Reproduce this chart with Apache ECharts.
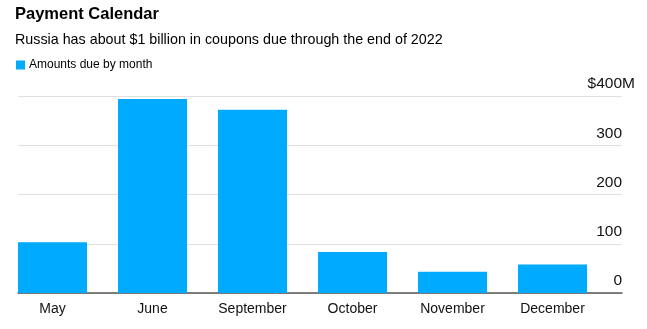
<!DOCTYPE html>
<html>
<head>
<meta charset="utf-8">
<script src="https://cdn.jsdelivr.net/npm/echarts@6/dist/echarts.min.js"></script>
<style>
  html, body { margin: 0; padding: 0; background: #fff; }
  #chart { width: 647px; height: 329px; }
</style>
</head>
<body>
<div id="chart"></div>
<script>
// Coupon payments due, $ millions
const months = ['May', 'June', 'September', 'October', 'November', 'December'];
const amountsDue = [103, 394, 372, 83, 43, 58];
const yMax = 400;
const yStep = 100;

const FONT = '"Liberation Sans", Arial, Helvetica, sans-serif';
const BAR_COLOR = '#00aaff';
const LABEL_SIZE = 15.5;

const chart = echarts.init(document.getElementById('chart'), null, { renderer: 'canvas' });

chart.setOption({
  animation: false,
  backgroundColor: '#fff',
  textStyle: { fontFamily: FONT },
  title: {
    left: 15,
    top: 6,
    padding: 0,
    text: 'Payment Calendar',
    subtext: 'Russia has about $1 billion in coupons due through the end of 2022',
    itemGap: 10,
    textStyle: { fontFamily: FONT, fontSize: 16.5, fontWeight: 'bold', color: '#000' },
    subtextStyle: { fontFamily: FONT, fontSize: 14.3, color: '#000' }
  },
  legend: {
    left: 16,
    top: 59,
    padding: 0,
    icon: 'rect',
    itemWidth: 9,
    itemHeight: 9,
    itemGap: 5,
    textStyle: { fontFamily: FONT, fontSize: 12, color: '#000', padding: [0, 0, 0, -1] },
    data: ['Amounts due by month']
  },
  grid: [
    // bar bands: 100px per month, bars left-aligned with the frame
    { left: 2.5, right: 44.5, top: 96, bottom: 36 },
    // gridlines, baseline and value labels
    { left: 18, right: 25, top: 96, bottom: 36 }
  ],
  xAxis: [
    {
      gridIndex: 0,
      type: 'category',
      data: months,
      axisLine: { show: false },
      axisTick: { show: false },
      axisLabel: { margin: 9, fontFamily: FONT, fontSize: 14, color: '#111' }
    },
    {
      gridIndex: 1,
      type: 'value',
      min: 0,
      max: 1,
      axisLabel: { show: false },
      axisTick: { show: false },
      splitLine: { show: false },
      axisLine: { show: true, lineStyle: { color: '#555', width: 1.5 } }
    }
  ],
  yAxis: [
    {
      gridIndex: 0,
      type: 'value',
      min: 0,
      max: yMax,
      interval: yStep,
      show: false
    },
    {
      gridIndex: 1,
      type: 'value',
      position: 'right',
      min: 0,
      max: yMax,
      interval: yStep,
      axisLine: { show: false },
      axisTick: { show: false },
      splitLine: { lineStyle: { color: '#e0e0e0', width: 1.2 } },
      axisLabel: {
        inside: true,
        margin: 0,
        verticalAlign: 'bottom',
        padding: [0, 0, 4, 0],
        fontFamily: FONT,
        fontSize: LABEL_SIZE,
        color: '#111',
        // the unit "M" on the top label hangs past the number column
        formatter: function (v) {
          return v === yMax ? '{top|$' + v + 'M}' : '{v|' + v + '}';
        },
        rich: {
          v: { fontFamily: FONT, fontSize: LABEL_SIZE, color: '#111' },
          top: { fontFamily: FONT, fontSize: LABEL_SIZE, color: '#111', align: 'right', padding: [0, -13, 0, 0] }
        }
      }
    }
  ],
  series: [
    {
      name: 'Amounts due by month',
      type: 'bar',
      xAxisIndex: 0,
      yAxisIndex: 0,
      data: amountsDue,
      barWidth: 69,
      itemStyle: { color: BAR_COLOR },
      z: 3
    }
  ]
});
</script>
</body>
</html>
